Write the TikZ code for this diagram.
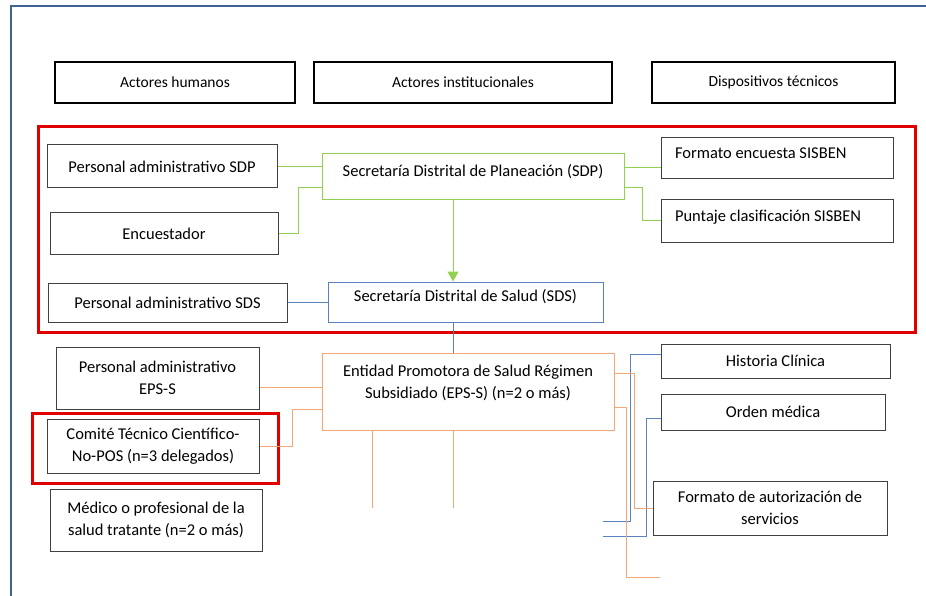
\documentclass[tikz,border=0pt]{standalone}
\usepackage{fontspec}
\setmainfont{Carlito}
\usetikzlibrary{arrows.meta}
\definecolor{framebl}{HTML}{41638F}
\definecolor{redbox}{HTML}{E00000}
\definecolor{lnkgreen}{HTML}{92D050}
\definecolor{lnkblue}{HTML}{5A82BE}
\definecolor{lnkorange}{HTML}{F2A777}
\definecolor{boxgray}{HTML}{404040}
\begin{document}
\begin{tikzpicture}[x=1pt, y=-1pt,
  head/.style={draw=black, line width=2.4pt, font=\fontsize{15.5}{19}\selectfont, inner sep=0pt},
  box/.style={draw=boxgray, line width=1pt, fill=white, align=center, inner sep=0pt, font=\fontsize{16.5}{22}\selectfont},
  leftbox/.style={box, align=flush left, inner xsep=14pt},
  lnkG/.style={draw=lnkgreen, line width=1pt},
  lnkB/.style={draw=lnkblue, line width=1pt},
  lnkO/.style={draw=lnkorange, line width=1pt}]
\useasboundingbox (0,0) rectangle (926,596);

% Frame
\draw[framebl, line width=2pt] (11,596) -- (11,6) -- (926,6);

% Headers
\node[head, minimum width=240, minimum height=41] (hum) at (175,82.5) {Actores humanos};
\node[head, minimum width=298, minimum height=41] (inst) at (463,82.5) {Actores institucionales};
\node[head, minimum width=243, minimum height=41] (disp) at (773.5,82.5) {Dispositivos técnicos};

% Highlight boxes
\draw[redbox, line width=3pt] (38,127) rectangle (915,332);
\draw[redbox, line width=3pt] (32,413) rectangle (278,483);

% Planeacion
\node[box, minimum width=230, minimum height=43] (psdp) at (162,166.5) {Personal administrativo SDP};
\node[box, minimum width=228, minimum height=41] (enc) at (164,233.5) {Encuestador};
\node[box, draw=lnkgreen, text depth=14pt, minimum width=302, minimum height=46] (sdp) at (473,177) {Secretaría Distrital de Planeación (SDP)};
\node[leftbox, text width=204, text depth=10pt, minimum height=41] (fenc) at (777,158.5) {Formato encuesta SISBEN};
\node[leftbox, text width=204, text depth=10pt, minimum height=42] (punt) at (777,221) {Puntaje clasificación SISBEN};

% Salud
\node[box, minimum width=239, minimum height=39] (psds) at (167.5,302.5) {Personal administrativo SDS};
\node[box, draw=lnkblue, text depth=14pt, minimum width=275, minimum height=40] (sds) at (465.5,302) {Secretaría Distrital de Salud (SDS)};

% EPS-S
\node[box, minimum width=203, minimum height=62] (peps) at (157.5,378) {Personal administrativo\\EPS-S};
\node[box, minimum width=212, minimum height=54] (ctc) at (153,446) {Comité Técnico Científico-\\No-POS (n=3 delegados)};
\node[box, minimum width=212, minimum height=62] (med) at (156,520) {Médico o profesional de la\\salud tratante (n=2 o más)};
\node[box, draw=lnkorange, text depth=20pt, minimum width=292, minimum height=77] (eps) at (468,391.5) {Entidad Promotora de Salud Régimen\\Subsidiado (EPS-S) (n=2 o más)};
\node[box, minimum width=229, minimum height=34] (hc) at (775.5,361) {Historia Clínica};
\node[box, minimum width=224, minimum height=36] (om) at (773,412) {Orden médica};
\node[box, minimum width=234, minimum height=54] (faut) at (770,508) {Formato de autorización de\\servicios};

% Green links
\draw[lnkG] (psdp.east) -- (psdp.east -| sdp.west);
\draw[lnkG] (enc.east) -- ++(20,0) |- ([yshift=-11pt]sdp.west);
\draw[lnkG] ([yshift=9pt]sdp.east) -- ([yshift=9pt]sdp.east -| fenc.west);
\draw[lnkG] ([yshift=-11pt]sdp.east) -- ++(18,0) |- (punt.west);
\draw[lnkG, -{Triangle[width=11pt,length=10pt]}] ([xshift=-20pt]sdp.south) -- ([xshift=-12.5pt]sds.north);

% Blue links
\draw[lnkB] (psds.east) -- (psds.east -| sds.west);
\draw[lnkB] ([xshift=-12.5pt]sds.south) -- ([xshift=-15pt]eps.north);
\coordinate (hcfree) at (603,521);
\coordinate (omfree) at (603,536);
\draw[lnkB] (hcfree) -| ([xshift=-30pt,yshift=7pt]hc.west) -- ([yshift=7pt]hc.west);
\draw[lnkB] (omfree) -| ([xshift=-14pt,yshift=-6pt]om.west) -- ([yshift=-6pt]om.west);

% Orange links
\draw[lnkO] ([yshift=-9pt]peps.east) -- ([yshift=-9pt]peps.east -| eps.west);
\draw[lnkO] (ctc.east) -- ++(33,0) |- ([yshift=-17.5pt]eps.west);
\draw[lnkO] ([xshift=-96pt]eps.south) -- ++(0,77);
\draw[lnkO] ([xshift=-15pt]eps.south) -- ++(0,77);
\draw[lnkO] ([yshift=18.5pt]eps.east) -- ++(20,0) |- (faut.west);
\coordinate (epsfree) at (660,577);
\draw[lnkO] ([yshift=-15.5pt]eps.east) -- ++(12,0) |- (epsfree);
\end{tikzpicture}
\end{document}
